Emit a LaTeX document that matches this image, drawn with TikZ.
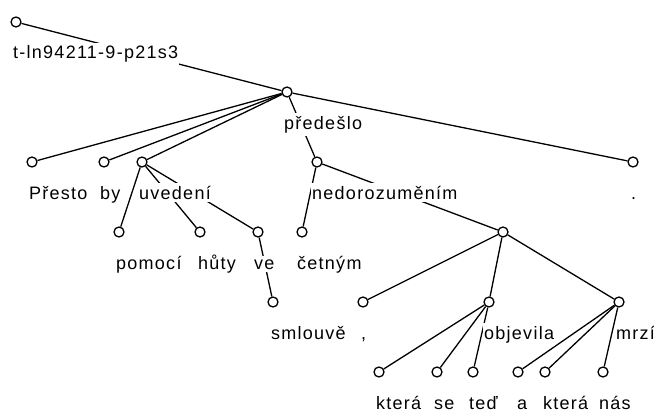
\documentclass[tikz,border=0pt]{standalone}
\usepackage{fontspec}
\setmainfont{Liberation Sans}[LetterSpace=7]
\usetikzlibrary{positioning,calc}

\begin{document}
\begin{tikzpicture}[
    x=1pt, y=-1pt,
    tnode/.style={circle, draw, fill=white, line width=1.3pt, minimum size=10pt, inner sep=0pt},
    word/.style={anchor=base west, fill=white, inner xsep=1pt, inner ysep=3pt, font=\fontsize{18}{20}\selectfont},
    edge/.style={draw, line width=1.3pt}
]
\useasboundingbox (0,0) rectangle (654,412);

% Tree nodes
\node [tnode] (root) at (16,22) {};
\node [tnode] (predeslo) at (287,92) {};
\node [tnode] (presto) at (32,162) {};
\node [tnode] (by) at (104,162) {};
\node [tnode] (uvedeni) at (142,162) {};
\node [tnode] (nedorozumenim) at (317,162) {};
\node [tnode] (tecka) at (633,162) {};
\node [tnode] (pomoci) at (119,232) {};
\node [tnode] (huty) at (200,232) {};
\node [tnode] (ve) at (258,232) {};
\node [tnode] (cetnym) at (302,232) {};
\node [tnode] (koord) at (503,232) {};
\node [tnode] (smlouve) at (273,302) {};
\node [tnode] (carka) at (363,302) {};
\node [tnode] (objevila) at (489,302) {};
\node [tnode] (mrzi) at (619,302) {};
\node [tnode] (ktera_a) at (379,372) {};
\node [tnode] (se) at (437,372) {};
\node [tnode] (ted) at (473,372) {};
\node [tnode] (a) at (518,372) {};
\node [tnode] (ktera_b) at (545,372) {};
\node [tnode] (nas) at (603,372) {};

% Edges
\path [edge] (root) -- (predeslo);
\path [edge] (predeslo) -- (presto);
\path [edge] (predeslo) -- (by);
\path [edge] (predeslo) -- (uvedeni);
\path [edge] (predeslo) -- (nedorozumenim);
\path [edge] (predeslo) -- (tecka);
\path [edge] (uvedeni) -- (pomoci);
\path [edge] (uvedeni) -- (huty);
\path [edge] (uvedeni) -- (ve);
\path [edge] (ve) -- (smlouve);
\path [edge] (nedorozumenim) -- (cetnym);
\path [edge] (nedorozumenim) -- (koord);
\path [edge] (koord) -- (carka);
\path [edge] (koord) -- (objevila);
\path [edge] (koord) -- (mrzi);
\path [edge] (objevila) -- (ktera_a);
\path [edge] (objevila) -- (se);
\path [edge] (objevila) -- (ted);
\path [edge] (mrzi) -- (a);
\path [edge] (mrzi) -- (ktera_b);
\path [edge] (mrzi) -- (nas);

% Word labels
\node [word] (root-w) at ($(root)+(-4,37)$) {t-ln94211-9-p21s3};
\node [word] (predeslo-w) at ($(predeslo)+(-4,37)$) {předešlo};
\node [word] (presto-w) at ($(presto)+(-4,37)$) {Přesto};
\node [word] (by-w) at ($(by)+(-5,37)$) {by};
\node [word] (uvedeni-w) at ($(uvedeni)+(-4,37)$) {uvedení};
\node [word] (nedorozumenim-w) at ($(nedorozumenim)+(-6,37)$) {nedorozuměním};
\node [word] (tecka-w) at ($(tecka)+(-3,37)$) {.};
\node [word] (pomoci-w) at ($(pomoci)+(-4,37)$) {pomocí};
\node [word] (huty-w) at ($(huty)+(-3,37)$) {hůty};
\node [word] (ve-w) at ($(ve)+(-5,37)$) {ve};
\node [word] (cetnym-w) at ($(cetnym)+(-6,37)$) {četným};
\node [word] (smlouve-w) at ($(smlouve)+(-3,37)$) {smlouvě};
\node [word] (carka-w) at ($(carka)+(-3,37)$) {,};
\node [word] (objevila-w) at ($(objevila)+(-6,37)$) {objevila};
\node [word] (mrzi-w) at ($(mrzi)+(-4,37)$) {mrzí};
\node [word] (ktera_a-w) at ($(ktera_a)+(-4,37)$) {která};
\node [word] (se-w) at ($(se)+(-4,37)$) {se};
\node [word] (ted-w) at ($(ted)+(-5,37)$) {teď};
\node [word] (a-w) at ($(a)+(-2,37)$) {a};
\node [word] (ktera_b-w) at ($(ktera_b)+(-3,37)$) {která};
\node [word] (nas-w) at ($(nas)+(-5,37)$) {nás};

\end{tikzpicture}
\end{document}
